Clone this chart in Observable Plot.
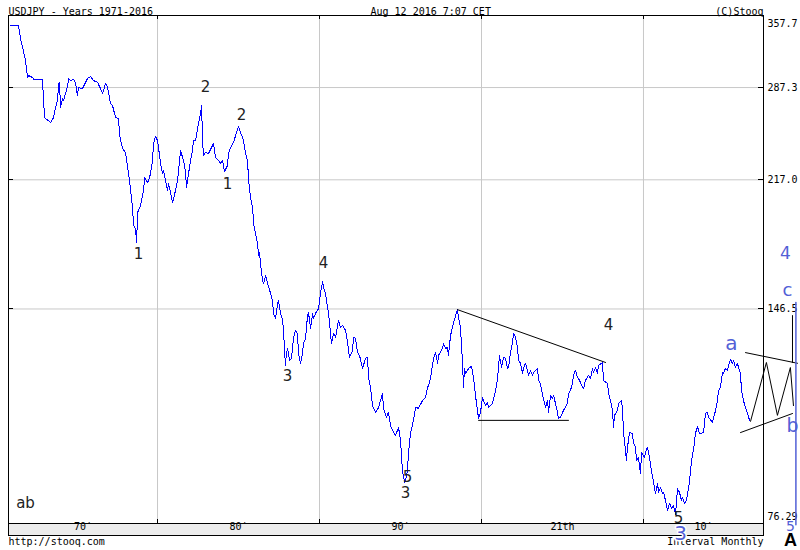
<!DOCTYPE html>
<html>
<head>
<meta charset="utf-8">
<script src="https://cdn.jsdelivr.net/npm/d3@7"></script>
<script src="https://cdn.jsdelivr.net/npm/@observablehq/plot@0.6"></script>
<style>
  html, body { margin: 0; padding: 0; background: #fff; }
  svg { display: block; }
</style>
</head>
<body>
<div id="chart"></div>
<script>
// ---- USDJPY monthly close, [decimal year, yen] ----
const rate1970s = [[1970.93,347.0],[1971.42,347.0],[1971.54,333.5],[1971.67,324.5],[1971.85,311.9],[1971.98,296.2],[1972.04,298.0],[1972.29,296.2],[1972.35,294.4],[1972.90,294.4],[1972.96,276.2],[1973.03,262.3],[1973.09,261.5],[1973.40,258.3],[1973.58,262.3],[1973.70,270.4],[1973.83,276.2],[1973.89,290.9],[1973.95,291.8],[1974.01,270.4],[1974.14,277.9],[1974.20,276.2],[1974.32,282.1],[1974.45,289.1],[1974.51,295.3],[1974.63,293.5],[1974.82,294.4],[1974.94,290.9],[1975.06,280.4],[1975.12,287.3],[1975.37,286.4],[1975.68,295.3],[1975.87,297.1],[1976.05,293.5],[1976.30,291.8],[1976.48,286.4],[1976.61,282.1],[1976.79,290.9],[1976.92,287.3],[1977.10,273.7],[1977.22,272.0],[1977.41,262.3],[1977.59,261.5],[1977.66,248.3],[1977.84,238.7],[1978.03,235.8],[1978.15,225.3],[1978.21,221.2],[1978.34,210.1],[1978.46,198.9],[1978.52,188.9],[1978.64,187.2],[1978.71,179.3],[1978.77,196.5],[1978.95,200.7],[1979.14,210.1],[1979.20,218.6],[1979.38,215.3],[1979.45,216.6],[1979.57,221.2],[1979.69,230.1],[1979.75,242.4],[1979.88,247.5]];
const rate1980s = [[1980.00,244.6],[1980.19,228.1],[1980.31,221.2],[1980.37,223.2],[1980.62,210.1],[1980.68,214.6],[1980.80,208.8],[1980.93,202.6],[1981.11,210.1],[1981.24,216.6],[1981.42,237.2],[1981.55,232.3],[1981.61,230.1],[1981.73,221.9],[1981.79,212.0],[1981.85,216.6],[1982.04,230.1],[1982.16,237.2],[1982.22,244.6],[1982.35,244.6],[1982.53,257.6],[1982.66,265.5],[1982.72,272.0],[1982.78,244.6],[1982.84,233.7],[1982.96,235.8],[1983.15,235.1],[1983.46,242.4],[1983.58,232.3],[1983.77,230.1],[1983.89,228.1],[1984.01,230.1],[1984.14,222.5],[1984.32,226.7],[1984.38,235.1],[1984.51,239.4],[1984.69,243.1],[1984.88,250.6],[1985.00,255.2],[1985.12,250.6],[1985.25,246.8],[1985.31,244.6],[1985.43,235.1],[1985.56,230.1],[1985.62,216.6],[1985.74,205.7],[1985.87,199.5],[1985.93,190.0],[1986.05,184.3],[1986.17,178.8],[1986.24,172.4],[1986.30,174.0],[1986.36,168.2],[1986.48,159.8],[1986.55,158.4],[1986.67,162.2],[1986.79,158.4],[1986.98,153.6],[1987.10,150.3],[1987.16,144.5],[1987.29,142.3],[1987.41,149.0],[1987.47,150.3],[1987.59,144.9],[1987.72,141.5],[1987.78,137.2],[1987.84,129.1],[1987.90,123.4],[1987.96,128.3],[1988.03,129.9],[1988.15,125.3],[1988.27,126.1],[1988.40,134.4],[1988.52,137.2],[1988.64,136.0],[1988.70,128.0],[1988.83,124.2],[1988.95,128.0],[1989.01,131.9],[1989.14,133.9],[1989.26,143.6],[1989.32,144.9],[1989.45,138.0],[1989.57,144.5],[1989.63,142.3],[1989.75,144.5],[1989.94,146.7]];
const rate1990s = [[1990.06,153.6],[1990.19,159.3],[1990.25,156.4],[1990.37,153.6],[1990.49,147.2],[1990.56,144.5],[1990.68,136.0],[1990.74,131.8],[1990.87,136.0],[1990.99,134.4],[1991.17,141.5],[1991.30,138.5],[1991.42,139.3],[1991.61,137.2],[1991.73,132.3],[1991.85,126.4],[1992.04,129.1],[1992.10,134.4],[1992.22,134.0],[1992.35,128.3],[1992.47,127.2],[1992.66,122.3],[1992.84,126.1],[1992.96,126.4],[1993.03,119.0],[1993.15,115.4],[1993.27,109.2],[1993.46,107.0],[1993.64,108.5],[1993.89,113.3],[1993.95,108.2],[1994.14,105.4],[1994.26,107.0],[1994.38,102.8],[1994.51,101.2],[1994.69,99.7],[1994.88,102.2],[1995.00,98.2],[1995.12,89.6],[1995.25,86.5],[1995.31,87.0],[1995.43,89.6],[1995.49,94.4],[1995.62,100.3],[1995.80,104.4],[1995.93,108.6],[1996.11,108.3],[1996.36,110.9],[1996.55,111.9],[1996.67,115.4],[1996.73,116.1],[1996.85,118.6],[1997.04,126.1],[1997.16,128.3],[1997.29,124.2],[1997.35,127.2],[1997.59,129.9],[1997.66,131.9],[1997.78,129.9],[1997.90,130.3],[1997.96,127.2],[1998.09,135.2],[1998.21,138.5],[1998.27,140.2],[1998.40,143.6],[1998.52,146.2],[1998.58,142.8],[1998.70,138.5],[1998.83,124.2],[1998.89,115.4],[1998.95,122.3],[1999.01,120.4],[1999.14,121.5],[1999.20,122.3],[1999.38,123.0],[1999.51,119.0],[1999.63,112.6],[1999.75,107.6],[1999.82,105.0],[1999.94,107.0]];
const rate2000s = [[2000.06,111.9],[2000.12,110.9],[2000.25,109.2],[2000.37,110.2],[2000.43,108.6],[2000.68,109.9],[2000.87,114.3],[2000.99,118.6],[2001.11,127.2],[2001.24,122.6],[2001.36,126.4],[2001.48,126.1],[2001.61,122.3],[2001.67,122.6],[2001.79,128.3],[2001.91,132.3],[2001.98,136.0],[2002.10,134.4],[2002.22,130.3],[2002.29,125.3],[2002.41,124.2],[2002.53,120.4],[2002.59,122.3],[2002.72,124.2],[2002.84,121.5],[2002.90,119.7],[2003.03,121.5],[2003.15,119.7],[2003.21,120.8],[2003.33,121.5],[2003.46,122.3],[2003.52,117.9],[2003.64,116.8],[2003.77,112.6],[2003.83,111.6],[2003.95,108.6],[2004.08,110.9],[2004.14,107.0],[2004.26,112.6],[2004.38,111.6],[2004.45,112.6],[2004.57,109.9],[2004.69,107.0],[2004.75,105.0],[2004.88,105.4],[2005.06,107.6],[2005.31,109.9],[2005.37,113.3],[2005.49,114.3],[2005.62,116.8],[2005.68,119.7],[2005.80,121.5],[2005.93,119.0],[2005.99,118.6],[2006.11,117.2],[2006.24,115.4],[2006.30,115.0],[2006.42,117.9],[2006.61,119.7],[2006.73,118.6],[2006.85,122.3],[2006.91,120.8],[2007.04,122.6],[2007.16,120.4],[2007.22,123.4],[2007.47,124.5],[2007.53,117.9],[2007.78,116.8],[2007.84,113.6],[2007.96,110.9],[2008.09,107.6],[2008.15,102.2],[2008.21,106.0],[2008.40,107.6],[2008.46,109.9],[2008.64,110.9],[2008.70,108.5],[2008.77,100.3],[2008.83,98.2],[2008.95,92.4],[2009.01,96.1],[2009.14,100.6],[2009.32,100.3],[2009.38,97.6],[2009.51,96.1],[2009.57,92.4],[2009.69,93.2],[2009.82,88.8],[2009.88,94.7]];
const rate2010s = [[2010.00,93.8],[2010.06,93.2],[2010.19,95.8],[2010.25,96.1],[2010.37,93.2],[2010.49,89.6],[2010.62,86.5],[2010.74,83.6],[2010.87,86.2],[2010.93,83.9],[2011.05,85.1],[2011.17,83.6],[2011.24,83.9],[2011.36,81.8],[2011.48,79.4],[2011.61,81.1],[2011.73,79.9],[2011.85,80.6],[2011.98,78.4],[2012.10,84.8],[2012.22,83.9],[2012.35,81.8],[2012.41,82.6],[2012.53,81.1],[2012.66,81.8],[2012.72,83.6],[2012.84,86.5],[2012.90,89.6],[2013.03,94.4],[2013.09,95.3],[2013.21,100.3],[2013.33,102.5],[2013.46,100.3],[2013.71,100.6],[2013.83,106.6],[2013.95,107.0],[2014.01,105.4],[2014.26,103.8],[2014.32,105.0],[2014.45,107.6],[2014.57,110.9],[2014.63,114.3],[2014.75,115.4],[2014.88,120.8],[2014.94,120.4],[2015.06,122.3],[2015.19,121.5],[2015.25,123.4],[2015.37,125.7],[2015.49,124.2],[2015.56,125.3],[2015.68,122.6],[2015.80,124.2],[2015.87,122.6],[2015.99,120.4],[2016.05,114.3],[2016.17,110.9],[2016.42,106.6],[2016.55,104.4]];

// ---- axes ----
const xDomain = [1970.80, 2017.41];
const gridYears = [1980, 1990, 2000, 2010];
const decadeBounds = [1970.80, 1980, 1990, 2000, 2010, 2017.41];
const xLabels = ["70′", "80′", "90′", "21th", "10′"];
const yTickValues = [357.7, 287.3, 217.0, 146.5, 76.29];
const yTickLabels = ["357.7", "287.3", "217.0", "146.5", "76.29"];

// ---- hand-drawn annotation lines [year, yen] ----
const triangleUpper = [[1998.52,146.2],[2007.66,124.5]];
const triangleLower = [[1999.82,104.4],[2005.37,104.4]];
const wedgeUpper = [[2016.30,128.3],[2019.51,124.2]];
const wedgeLower = [[2015.99,100.6],[2019.20,106.6]];
const zigzag = [[2016.61,104.1],[2017.59,124.5],[2018.27,106.0],[2019.07,122.6],[2019.26,109.2]];
const legC = [[2019.20,143.6],[2019.20,124.5]];
const blueLeg = [[2019.41,149.4],[2019.41,76.0]];

// ---- wave labels ----
const waveText = ["2","2","1","1","4","3","5","3","4","5","ab"];
const waveYear = [1982.96,1985.19,1984.32,1978.83,1990.25,1988.03,1995.43,1995.31,2007.84,2012.16,1971.85];
const waveValue = [287.3,263.9,213.9,172.9,168.2,119.3,87.8,83.6,139.3,77.6,81.1];
const blueText = ["4","c","a","b","5","3"];
const blueYear = [2018.77,2018.89,2015.43,2019.20,2019.07,2012.29];
const blueValue = [173.4,155.0,131.9,102.8,75.7,74.0];
const cornerText = ["A"];
const cornerYear = [2019.07];
const cornerValue = [72.4];

const rate = [...rate1970s, ...rate1980s, ...rate1990s, ...rate2000s, ...rate2010s];

const MONO = "DejaVu Sans Mono";
const SANS = "DejaVu Sans";
const BLUE = "#5260d6";
const P = d => d[0], V = d => d[1];

function blueLabel(i, size, extra = {}) {
  return Plot.text([blueText[i]], {x: [blueYear[i]], y: [blueValue[i]], text: [blueText[i]],
    fill: BLUE, fontFamily: SANS, fontSize: size, ...extra});
}

const chart = Plot.plot({
  width: 800, height: 550,
  marginTop: 15, marginBottom: 27, marginLeft: 8, marginRight: 37,
  style: {background: "white", fontFamily: MONO, fontSize: "10px", overflow: "visible"},
  x: {type: "linear", domain: xDomain, axis: null},
  y: {type: "log", domain: [yTickValues[4], yTickValues[0]], axis: null},
  marks: [
    Plot.ruleX(gridYears, {stroke: "#c8c8c8"}),
    Plot.ruleY(yTickValues.slice(1, 4), {stroke: "#c8c8c8"}),
    Plot.frame({stroke: "black"}),
    // x labels inside the grey band
    Plot.text(xLabels, {x: (d, i) => (decadeBounds[i] + decadeBounds[i + 1]) / 2, text: d => d,
      frameAnchor: "bottom", dy: 6, fontFamily: MONO, fontSize: 10, fill: "black"}),
    // right axis labels
    Plot.text(yTickValues.slice(1, 4), {y: d => d, text: (d, i) => yTickLabels[i + 1],
      frameAnchor: "right", dx: 4, textAnchor: "start", fontFamily: MONO, fontSize: 10, fill: "black"}),
    Plot.text([yTickValues[0]], {y: d => d, text: [yTickLabels[0]], frameAnchor: "right", dx: 4, dy: 8,
      textAnchor: "start", fontFamily: MONO, fontSize: 10, fill: "black"}),
    Plot.text([yTickValues[4]], {y: d => d, text: [yTickLabels[4]], frameAnchor: "right", dx: 4, dy: -7,
      textAnchor: "start", fontFamily: MONO, fontSize: 10, fill: "black"}),
    // header & footer
    Plot.text(["USDJPY - Years 1971-2016"], {text: d => d, frameAnchor: "top-left", textAnchor: "start",
      dy: -8, fontFamily: MONO, fontSize: 10, fill: "black"}),
    Plot.text(["Aug 12 2016 7:07 CET"], {text: d => d, frameAnchor: "top-left", textAnchor: "start",
      dx: 362, dy: -8, fontFamily: MONO, fontSize: 10, fill: "black"}),
    Plot.text(["(C)Stooq"], {text: d => d, frameAnchor: "top-right", textAnchor: "end",
      dy: -8, fontFamily: MONO, fontSize: 10, fill: "black"}),
    Plot.text(["http://stooq.com"], {text: d => d, frameAnchor: "bottom-left", textAnchor: "start",
      dy: 21, fontFamily: MONO, fontSize: 10, fill: "black"}),
    Plot.text(["Interval Monthly"], {text: d => d, frameAnchor: "bottom-right", textAnchor: "end",
      dy: 21, fontFamily: MONO, fontSize: 10, fill: "black"}),
    // price line
    Plot.line(rate, {x: P, y: V, stroke: "#0000ff", strokeWidth: 1, shapeRendering: "crispEdges"}),
    // annotation lines
    Plot.line(triangleUpper, {x: P, y: V, stroke: "black", strokeWidth: 1}),
    Plot.line(triangleLower, {x: P, y: V, stroke: "black", strokeWidth: 1}),
    Plot.line(wedgeUpper, {x: P, y: V, stroke: "black", strokeWidth: 1}),
    Plot.line(wedgeLower, {x: P, y: V, stroke: "black", strokeWidth: 1}),
    Plot.line(zigzag, {x: P, y: V, stroke: "black", strokeWidth: 1}),
    Plot.line(legC, {x: P, y: V, stroke: "black", strokeWidth: 1}),
    Plot.line(blueLeg, {x: P, y: V, stroke: BLUE, strokeWidth: 1.5}),
    // wave labels
    Plot.text(waveText, {x: waveYear, y: waveValue, text: waveText, fill: "#222",
      fontFamily: SANS, fontSize: 15}),
    blueLabel(0, 17),
    blueLabel(1, 18),
    blueLabel(2, 20),
    blueLabel(3, 19),
    blueLabel(4, 14),
    blueLabel(5, 20, {stroke: "white", strokeWidth: 3, paintOrder: "stroke"}),
    Plot.text(cornerText, {x: cornerYear, y: cornerValue, text: cornerText, fill: "black",
      fontFamily: "Liberation Sans", fontWeight: "bold", fontSize: 18})
  ]
});

// grey axis band and tick marks (positions from the plot's own scales)
const svg = d3.select(chart);
const xs = chart.scale("x"), ys = chart.scale("y");
const [L, R] = xs.range, [B, T] = ys.range;
svg.insert("rect", ":first-child")
  .attr("x", L + 0.5).attr("y", B + 0.5).attr("width", R - L).attr("height", 12)
  .attr("fill", "#ececec").attr("stroke", "black");
const ticks = svg.append("g").attr("stroke", "black").attr("stroke-width", 1);
gridYears.forEach(t => {
  const px = Math.round(xs.apply(t)) + 0.5;
  ticks.append("line").attr("x1", px).attr("x2", px).attr("y1", T).attr("y2", T + 4);
  ticks.append("line").attr("x1", px).attr("x2", px).attr("y1", B - 4).attr("y2", B);
});
yTickValues.slice(1, 4).forEach(v => {
  const py = Math.round(ys.apply(v)) + 0.5;
  ticks.append("line").attr("x1", L).attr("x2", L + 5).attr("y1", py).attr("y2", py);
  ticks.append("line").attr("x1", R - 5).attr("x2", R).attr("y1", py).attr("y2", py);
});

document.getElementById("chart").appendChild(chart);
</script>
</body>
</html>
